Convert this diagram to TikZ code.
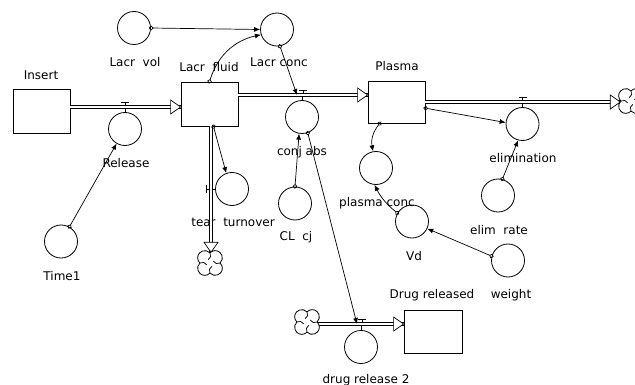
\documentclass[tikz,border=0pt]{standalone}
\usepackage{fontspec}
\setmainfont{DejaVu Sans}
\usetikzlibrary{
  arrows.meta,
  calc,
  positioning
}

\tikzset{
  stock/.style={draw,line width=0.8pt,minimum width=57pt,minimum height=43pt,inner sep=0pt},
  conv/.style={draw,circle,line width=0.8pt,minimum size=33pt,inner sep=0pt},
  pipe/.style={draw,line width=0.6pt,double=white,double distance=2.4pt},
  link/.style={line width=0.7pt,{Circle[open,length=4.5pt,width=4.5pt]}-{Latex[length=6pt,width=5pt]},shorten <=-2pt},
  sink/.style={circle,minimum size=21pt,inner sep=0pt},
  lbl/.style={inner sep=1pt,font=\fontsize{12}{14}\selectfont},
  flowhead/.pic={\draw[line width=0.7pt,fill=white] (0,0) -- (-10,-7) -- (-10,7) -- cycle;},
  valvet/.pic={\draw[line width=0.7pt] (0,0) -- (0,-5) (-4,-5) -- (4,-5);},
  cloudpic/.pic={
    \draw[line width=0.8pt,fill=white,scale=1.3] (7.77,0) arc[start angle=-46.7,end angle=136.7,radius=5.5]
      arc[start angle=43.3,end angle=226.7,radius=5.5]
      arc[start angle=133.3,end angle=316.7,radius=5.5]
      arc[start angle=223.3,end angle=406.7,radius=5.5] -- cycle;
    \foreach \a in {0,90,180,270}
      \draw[line width=0.7pt,scale=1.3,rotate=\a] (7.77,0) to[bend left=50] (2.5,-1.5);
  }
}

\begin{document}
\begin{tikzpicture}[x=1pt,y=-1pt]
      \useasboundingbox (0,0) rectangle (635,385);

      % stocks
      \node[stock,minimum height=44pt] (insert) at (41.5,111) {};
      \node[stock,minimum height=44pt] (lacrfluid) at (209.5,104) {};
      \node[stock,minimum height=42pt] (plasma) at (396.5,102) {};
      \node[stock,minimum width=58pt] (drugrel) at (433,332) {};

      % converters and valves
      \node[conv] (lacrvol) at (134,28) {};
      \node[conv] (lacrconc) at (277,29.5) {};
      \node[conv] (release) at (125,129) {};
      \node[conv] (conjabs) at (302,117) {};
      \node[conv] (teart) at (232,189) {};
      \node[conv] (clcj) at (295,203.5) {};
      \node[conv] (time1) at (61,241.5) {};
      \node[conv] (plasmaconc) at (376,168) {};
      \node[conv] (vd) at (412,221.5) {};
      \node[conv] (weight) at (508,260.5) {};
      \node[conv] (elimination) at (522.5,124) {};
      \node[conv] (elimrate) at (498,195.5) {};
      \node[conv] (drugrel2) at (361,347) {};

      % clouds
      \node[sink] (ttsink) at (210,263) {};
      \node[sink] (drsink) at (307,322) {};
      \node[sink] (elsink) at (631,101) {};

      % labels
      \node[lbl] (insertlbl) at (41,75) {Insert};
      \node[lbl] (lacrvollbl) at (135,62) {Lacr\ \ vol};
      \node[lbl] (lacrfluidlbl) at (209,67) {Lacr\ \ fluid};
      \node[lbl] (lacrconclbl) at (279,62) {Lacr conc};
      \node[lbl] (conjabslbl) at (302,152) {conj abs};
      \node[lbl] (plasmalbl) at (397,66) {Plasma};
      \node[lbl] (eliminationlbl) at (523,158) {elimination};
      \node[lbl] (elimratelbl) at (499,230) {elim\ \ rate};
      \node[lbl] (plasmaconclbl) at (377,203) {plasma conc};
      \node[lbl] (vdlbl) at (414,256) {Vd};
      \node[lbl] (weightlbl) at (511,295) {weight};
      \node[lbl] (drugrellbl) at (432,295) {Drug released};
      \node[lbl] (drugrel2lbl) at (366,380) {drug release 2};
      \node[lbl] (clcjlbl) at (296,237) {CL\ \ cj};
      \node[lbl] (teartlbl) at (233,222) {tear\ \ turnover};
      \node[lbl] (time1lbl) at (62,276) {Time1};
      \node[lbl] (releaselbl) at (126,163) {Release};

      % valve points on the pipes
      \coordinate (relv) at (125,107);
      \coordinate (cav) at (297,95);
      \coordinate (elv) at (522.5,102);
      \coordinate (ttv) at (211,189);
      \coordinate (drv) at (357,324);

      % valve handles
      \draw[line width=0.7pt] (relv) -- (release.north);
      \pic at (relv) {valvet};
      \draw[line width=0.7pt] (conjabs.north) -- ++(0,-5);
      \pic at ($(cav)+(6,0)$) {valvet};
      \draw[line width=0.7pt] (elv) -- (elimination.north);
      \pic at (elv) {valvet};
      \draw[line width=0.7pt] (ttv) -- (teart.west);
      \pic[rotate=90] at (ttv) {valvet};
      \draw[line width=0.7pt] (drugrel2.north) -- ++(0,-6);
      \pic at ($(drv)+(5,0)$) {valvet};

      % flows
      \draw[pipe] (insert.east |- relv) -- (lacrfluid.west |- relv);
      \pic at (lacrfluid.west |- relv) {flowhead};
      \draw[pipe] (lacrfluid.east |- cav) -- (plasma.west |- cav);
      \pic at (plasma.west |- cav) {flowhead};
      \draw[pipe] (plasma.east |- elv) -- (elsink.west |- elv);
      \pic at (elsink.west |- elv) {flowhead};
      \draw[pipe] (lacrfluid.south -| ttv) -- (ttsink.north -| ttv);
      \pic[rotate=-90] at (ttsink.north -| ttv) {flowhead};
      \draw[pipe] (drsink.east |- drv) -- (drugrel.west |- drv);
      \pic at (drugrel.west |- drv) {flowhead};

      % clouds on top of the pipe ends
      \pic at (ttsink) {cloudpic};
      \pic at (drsink) {cloudpic};
      \pic at (elsink) {cloudpic};

      % connectors
      \draw[link] (lacrvol.east) -- (lacrconc.west);
      \draw[link] (lacrfluid.north) to[bend left=30] (lacrconc.198);
      \draw[link] (lacrconc.-80) -- (cav);
      \draw[link] (lacrfluid.-80) -- (teart.110);
      \draw[link] (time1.60) -- (release.240);
      \draw[link] (clcj.north) -- (conjabs.-100);
      \draw[link] (conjabs.-70) -- (drv);
      \draw[link] (plasma.-12) -- (elimination.175);
      \draw[link] (elimrate.75) -- (elimination.-105);
      \draw[link] (plasma.-128) to[bend right=25] (plasmaconc.100);
      \draw[link] (vd.150) to[bend left=12] (plasmaconc.-95);
      \draw[link] (weight.165) -- (vd.-25);
\end{tikzpicture}
\end{document}
